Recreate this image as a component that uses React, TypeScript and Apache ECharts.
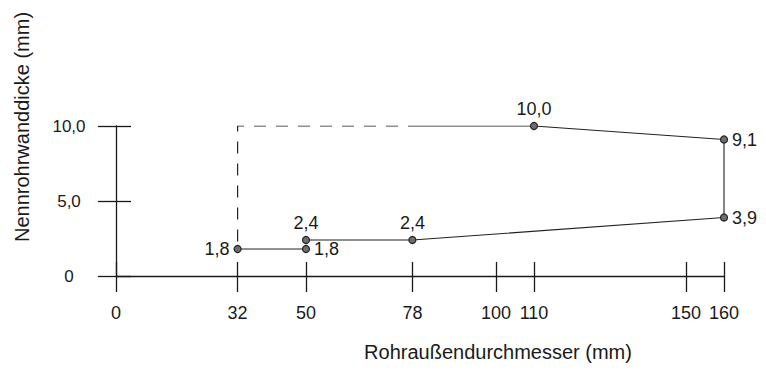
import React, { useEffect, useRef } from "react";
import * as echarts from "echarts";

// ---- data ----
const xTicks = [0, 32, 50, 78, 100, 110, 150, 160];
const yTicks = [0, 5, 10];
const xTitle = "Rohraußendurchmesser (mm)";
const yTitle = "Nennrohrwanddicke (mm)";

// lower short step: 32 mm and 50 mm at 1,8 mm
const lowerStep: number[][] = [
  [32, 1.8],
  [50, 1.8],
];
// main solid outline
const mainOutline: number[][] = [
  [50, 2.4],
  [78, 2.4],
  [160, 3.9],
  [160, 9.1],
  [110, 10.0],
];
// solid continuation of the top edge (no marker at its end)
const topSolid: number[][] = [
  [110, 10.0],
  [80, 10.0],
];
// dashed boundary
const dashedBoundary: number[][] = [
  [80, 10.0],
  [32, 10.0],
  [32, 1.8],
];

// label placements (styling)
const lowerLabelPos = ["left", "right"];
const mainLabelPos = ["top", "top", "right", "right", "top"];

const FONT = "'Liberation Sans', Arial, Helvetica, sans-serif";
const INK = "#1a1a1a";

const fmt = (v: number) => (v === 0 ? "0" : v.toFixed(1).replace(".", ","));

export default function App() {
  const ref = useRef<HTMLDivElement>(null);

  useEffect(() => {
    document.body.style.margin = "0";
    if (!ref.current) return;
    const chart = echarts.init(ref.current, undefined, { renderer: "svg" });

    const markerStyle = {
      color: "#6e6e6e",
      borderColor: "#222",
      borderWidth: 1.2,
    };
    const labelBase = {
      show: true,
      fontFamily: FONT,
      fontSize: 18,
      color: INK,
      distance: 4,
      formatter: (p: any) => fmt(p.value[1]),
    };

    const baseX = {
      type: "value" as const,
      min: 0,
      max: 160,
      splitLine: { show: false },
    };
    const baseY = {
      type: "value" as const,
      min: 0,
      max: 10,
      splitLine: { show: false },
    };

    chart.setOption({
      animation: false,
      backgroundColor: "#ffffff",
      textStyle: { fontFamily: FONT },
      grid: { left: 116, top: 126, width: 608, height: 150, containLabel: false },
      xAxis: [
        {
          ...baseX,
          position: "bottom",
          axisLine: { show: true, onZero: false, lineStyle: { color: INK, width: 1.3 } },
          axisTick: {
            show: true,
            inside: false,
            length: 16,
            customValues: xTicks,
            lineStyle: { color: INK, width: 1.3 },
          },
          axisLabel: {
            show: true,
            customValues: xTicks,
            margin: 28,
            fontSize: 18,
            fontFamily: FONT,
            color: INK,
            formatter: (v: number) => String(v),
          },
        },
        {
          ...baseX,
          position: "bottom",
          axisLine: { show: false, onZero: false },
          axisTick: {
            show: true,
            inside: true,
            length: 14,
            customValues: xTicks,
            lineStyle: { color: INK, width: 1.3 },
          },
          axisLabel: { show: false },
        },
      ],
      yAxis: [
        {
          ...baseY,
          position: "left",
          axisLine: { show: true, onZero: false, lineStyle: { color: INK, width: 1.3 } },
          axisTick: {
            show: true,
            inside: false,
            length: 18,
            customValues: yTicks,
            lineStyle: { color: INK, width: 1.3 },
          },
          axisLabel: {
            show: true,
            customValues: yTicks,
            margin: 47,
            align: "center",
            fontSize: 17,
            fontFamily: FONT,
            color: INK,
            formatter: (v: number) => fmt(v),
          },
        },
        {
          ...baseY,
          position: "left",
          axisLine: { show: false, onZero: false },
          axisTick: {
            show: true,
            inside: true,
            length: 15,
            customValues: yTicks,
            lineStyle: { color: INK, width: 1.3 },
          },
          axisLabel: { show: false },
        },
      ],
      series: [
        {
          type: "line",
          xAxisIndex: 0,
          yAxisIndex: 0,
          data: dashedBoundary,
          symbol: "none",
          lineStyle: { color: "#222", width: 1.2, type: [12, 10] },
          silent: true,
          z: 1,
        },
        {
          type: "line",
          xAxisIndex: 0,
          yAxisIndex: 0,
          data: topSolid,
          symbol: "none",
          lineStyle: { color: "#222", width: 1.1 },
          silent: true,
          z: 1,
        },
        {
          type: "line",
          xAxisIndex: 0,
          yAxisIndex: 0,
          data: lowerStep.map((p, i) => ({
            value: p,
            label: { ...labelBase, position: lowerLabelPos[i] },
          })),
          symbol: "circle",
          symbolSize: 7,
          itemStyle: markerStyle,
          lineStyle: { color: "#222", width: 1.1 },
          label: labelBase,
          z: 3,
        },
        {
          type: "line",
          xAxisIndex: 0,
          yAxisIndex: 0,
          data: mainOutline.map((p, i) => ({
            value: p,
            label: { ...labelBase, position: mainLabelPos[i] },
          })),
          symbol: "circle",
          symbolSize: 7,
          itemStyle: markerStyle,
          lineStyle: { color: "#222", width: 1.1 },
          label: labelBase,
          z: 3,
        },
      ],
      graphic: [
        {
          type: "text",
          x: 498,
          y: 352,
          style: {
            text: xTitle,
            font: `20px ${FONT}`,
            fill: INK,
            textAlign: "center",
            textVerticalAlign: "middle",
          },
        },
        {
          type: "text",
          x: 22,
          y: 127,
          rotation: Math.PI / 2,
          style: {
            text: yTitle,
            font: `20px ${FONT}`,
            fill: INK,
            textAlign: "center",
            textVerticalAlign: "middle",
          },
        },
      ],
    });

    return () => chart.dispose();
  }, []);

  return <div ref={ref} style={{ width: 766, height: 376 }} />;
}
